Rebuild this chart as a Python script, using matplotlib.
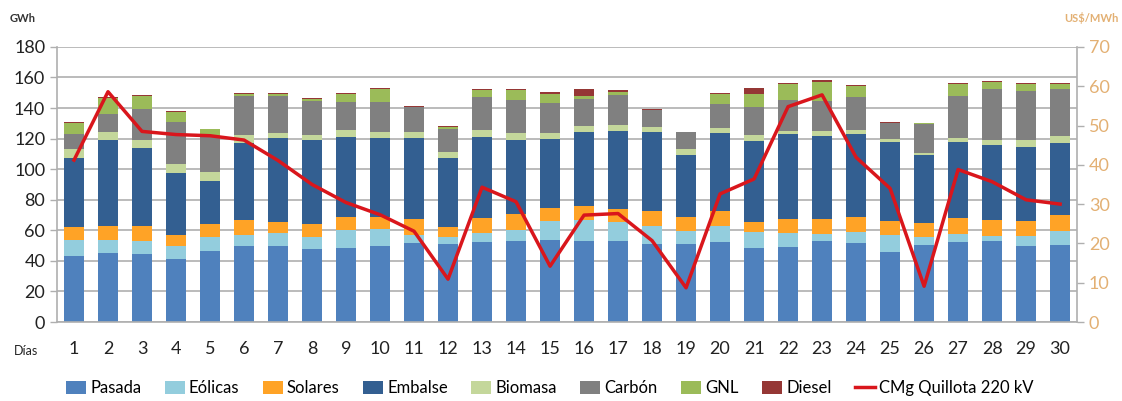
import numpy as np
import matplotlib.pyplot as plt
from matplotlib.patches import Patch
from matplotlib.lines import Line2D

plt.rcParams['font.family'] = ['Lato', 'DejaVu Sans']

dias = list(range(1, 31))

# GWh por tecnologia
pasada = [43.5, 45.3, 44.2, 41.3, 46.6, 49.8, 49.8, 47.7, 48.7, 49.8,
          51.6, 51.1, 52.5, 52.9, 53.8, 53.3, 52.9, 51.1, 51.3, 52.2,
          48.7, 49.4, 52.9, 51.8, 45.9, 50.7, 52.2, 52.9, 49.8, 50.5]
eolicas = [10.3, 8.5, 8.9, 8.7, 8.7, 7.4, 8.5, 7.8, 11.6, 11.0,
           5.4, 4.2, 6.0, 7.4, 12.0, 13.5, 12.6, 11.4, 8.3, 10.3,
           10.5, 8.7, 4.8, 7.4, 11.1, 4.6, 5.3, 3.1, 6.2, 9.1]
solares = [8.5, 8.9, 9.6, 6.8, 8.7, 9.6, 7.2, 8.5, 8.3, 8.2,
           10.5, 7.0, 9.6, 10.3, 8.7, 9.4, 8.7, 10.2, 9.0, 10.2,
           6.5, 9.4, 9.8, 9.6, 9.4, 9.8, 10.6, 10.8, 10.0, 10.6]
embalse = [45.3, 56.3, 51.4, 41.0, 28.5, 50.2, 55.2, 55.0, 52.7, 51.3,
           53.2, 44.9, 53.2, 48.8, 45.5, 48.4, 51.1, 51.3, 41.0, 50.8,
           53.0, 55.2, 54.5, 54.3, 51.2, 44.0, 49.8, 48.7, 48.8, 46.8]
biomasa = [5.4, 5.0, 5.1, 5.9, 5.7, 5.2, 3.2, 3.4, 4.4, 4.0,
           3.5, 4.3, 4.6, 4.5, 3.9, 3.5, 3.6, 3.4, 3.7, 3.4,
           3.7, 2.6, 2.9, 2.6, 2.4, 1.7, 2.8, 3.9, 4.4, 4.7]
carbon = [10.3, 12.4, 20.0, 27.3, 23.1, 25.9, 24.2, 22.5, 18.3, 19.5,
          16.3, 15.1, 21.6, 21.2, 19.5, 18.1, 19.7, 11.2, 10.9, 15.8,
          18.1, 20.1, 19.5, 21.8, 10.1, 19.0, 27.4, 33.1, 31.8, 31.0]
gnl = [7.2, 10.0, 8.9, 6.5, 4.7, 1.0, 1.1, 0.9, 5.0, 8.5,
       0.4, 1.1, 4.2, 6.6, 6.1, 1.9, 2.2, 0.0, 0.0, 6.5,
       8.7, 10.1, 12.7, 7.0, 0.3, 0.4, 7.7, 4.4, 4.5, 3.1]
diesel = [0.5, 0.6, 0.5, 0.5, 0.6, 0.6, 0.5, 0.7, 0.7, 0.7,
          0.5, 0.6, 0.8, 1.0, 0.8, 4.6, 1.1, 0.6, 0.4, 0.7,
          3.7, 0.9, 1.1, 0.6, 0.6, 0.3, 0.6, 0.6, 0.7, 0.6]

# US$/MWh
cmg = [41.2, 58.6, 48.5, 47.7, 47.4, 46.3, 41.1, 35.0, 30.4, 27.3,
       23.1, 10.9, 34.3, 30.6, 14.2, 27.2, 27.6, 20.7, 8.7, 32.6,
       36.4, 54.8, 57.8, 41.9, 34.0, 9.1, 38.8, 35.7, 31.1, 30.0]

series = [
    ('Pasada', pasada, '#4F81BD'),
    ('Eólicas', eolicas, '#93CDDD'),
    ('Solares', solares, '#FFA326'),
    ('Embalse', embalse, '#335F91'),
    ('Biomasa', biomasa, '#C4D79B'),
    ('Carbón', carbon, '#808080'),
    ('GNL', gnl, '#9BBB59'),
    ('Diesel', diesel, '#953735'),
]
color_linea = '#D9161C'
gris = '#AFAFAF'
naranja = '#E3B073'

fig = plt.figure(figsize=(11.22, 4.01), dpi=100)
ax = fig.add_axes([0.0508, 0.197, 0.9092, 0.686])

x = np.array(dias)
base = np.zeros(len(dias))
for nombre, vals, col in series:
    ax.bar(x, vals, bottom=base, width=0.57, color=col, zorder=2)
    base += np.array(vals)

ax.set_xlim(0.5, 30.5)
ax.set_ylim(0, 180)
ax.set_yticks(range(0, 181, 20))
ax.yaxis.grid(True, color=gris, linewidth=1.2, zorder=0)
ax.set_axisbelow(True)
ax.set_xticks(x)
ax.set_xticklabels([str(d) for d in dias], fontsize=13)
ax.tick_params(axis='x', length=0, pad=14, colors='#222222')
ax.tick_params(axis='y', labelsize=13, labelcolor='#222222', color=gris, length=5, width=1)
for s in ['top', 'right']:
    ax.spines[s].set_visible(False)
ax.spines['left'].set_color(gris)
ax.spines['bottom'].set_color(gris)
ax.spines['left'].set_linewidth(1.2)
ax.spines['bottom'].set_linewidth(1.2)

ax2 = ax.twinx()
ax2.plot(x, cmg, color=color_linea, linewidth=2.5, zorder=5)
ax2.set_ylim(0, 70)
ax2.set_yticks(range(0, 71, 10))
ax2.tick_params(axis='y', labelsize=13, labelcolor=naranja, color=gris, length=5, width=1)
for s in ['top', 'left', 'bottom']:
    ax2.spines[s].set_visible(False)
ax2.spines['right'].set_color(gris)
ax2.spines['right'].set_linewidth(1.2)

fig.text(0.009, 0.955, 'GWh', fontsize=8, fontweight='bold', color='#333333', va='center')
fig.text(0.997, 0.955, 'US$/MWh', fontsize=8, fontweight='bold', color=naranja,
         va='center', ha='right')
fig.text(0.012, 0.125, 'Días', fontsize=9, color='#222222', va='center')

handles = [Patch(facecolor=col, label=nombre) for nombre, vals, col in series]
handles.append(Line2D([0], [0], color=color_linea, linewidth=2.5, label='CMg Quillota 220 kV'))
fig.legend(handles=handles, loc='center', bbox_to_anchor=(0.49, 0.032), ncol=9,
           frameon=False, fontsize=12, handlelength=1.2, handleheight=0.9,
           handletextpad=0.25, columnspacing=1.4)

fig.savefig('out.png', dpi=100)
